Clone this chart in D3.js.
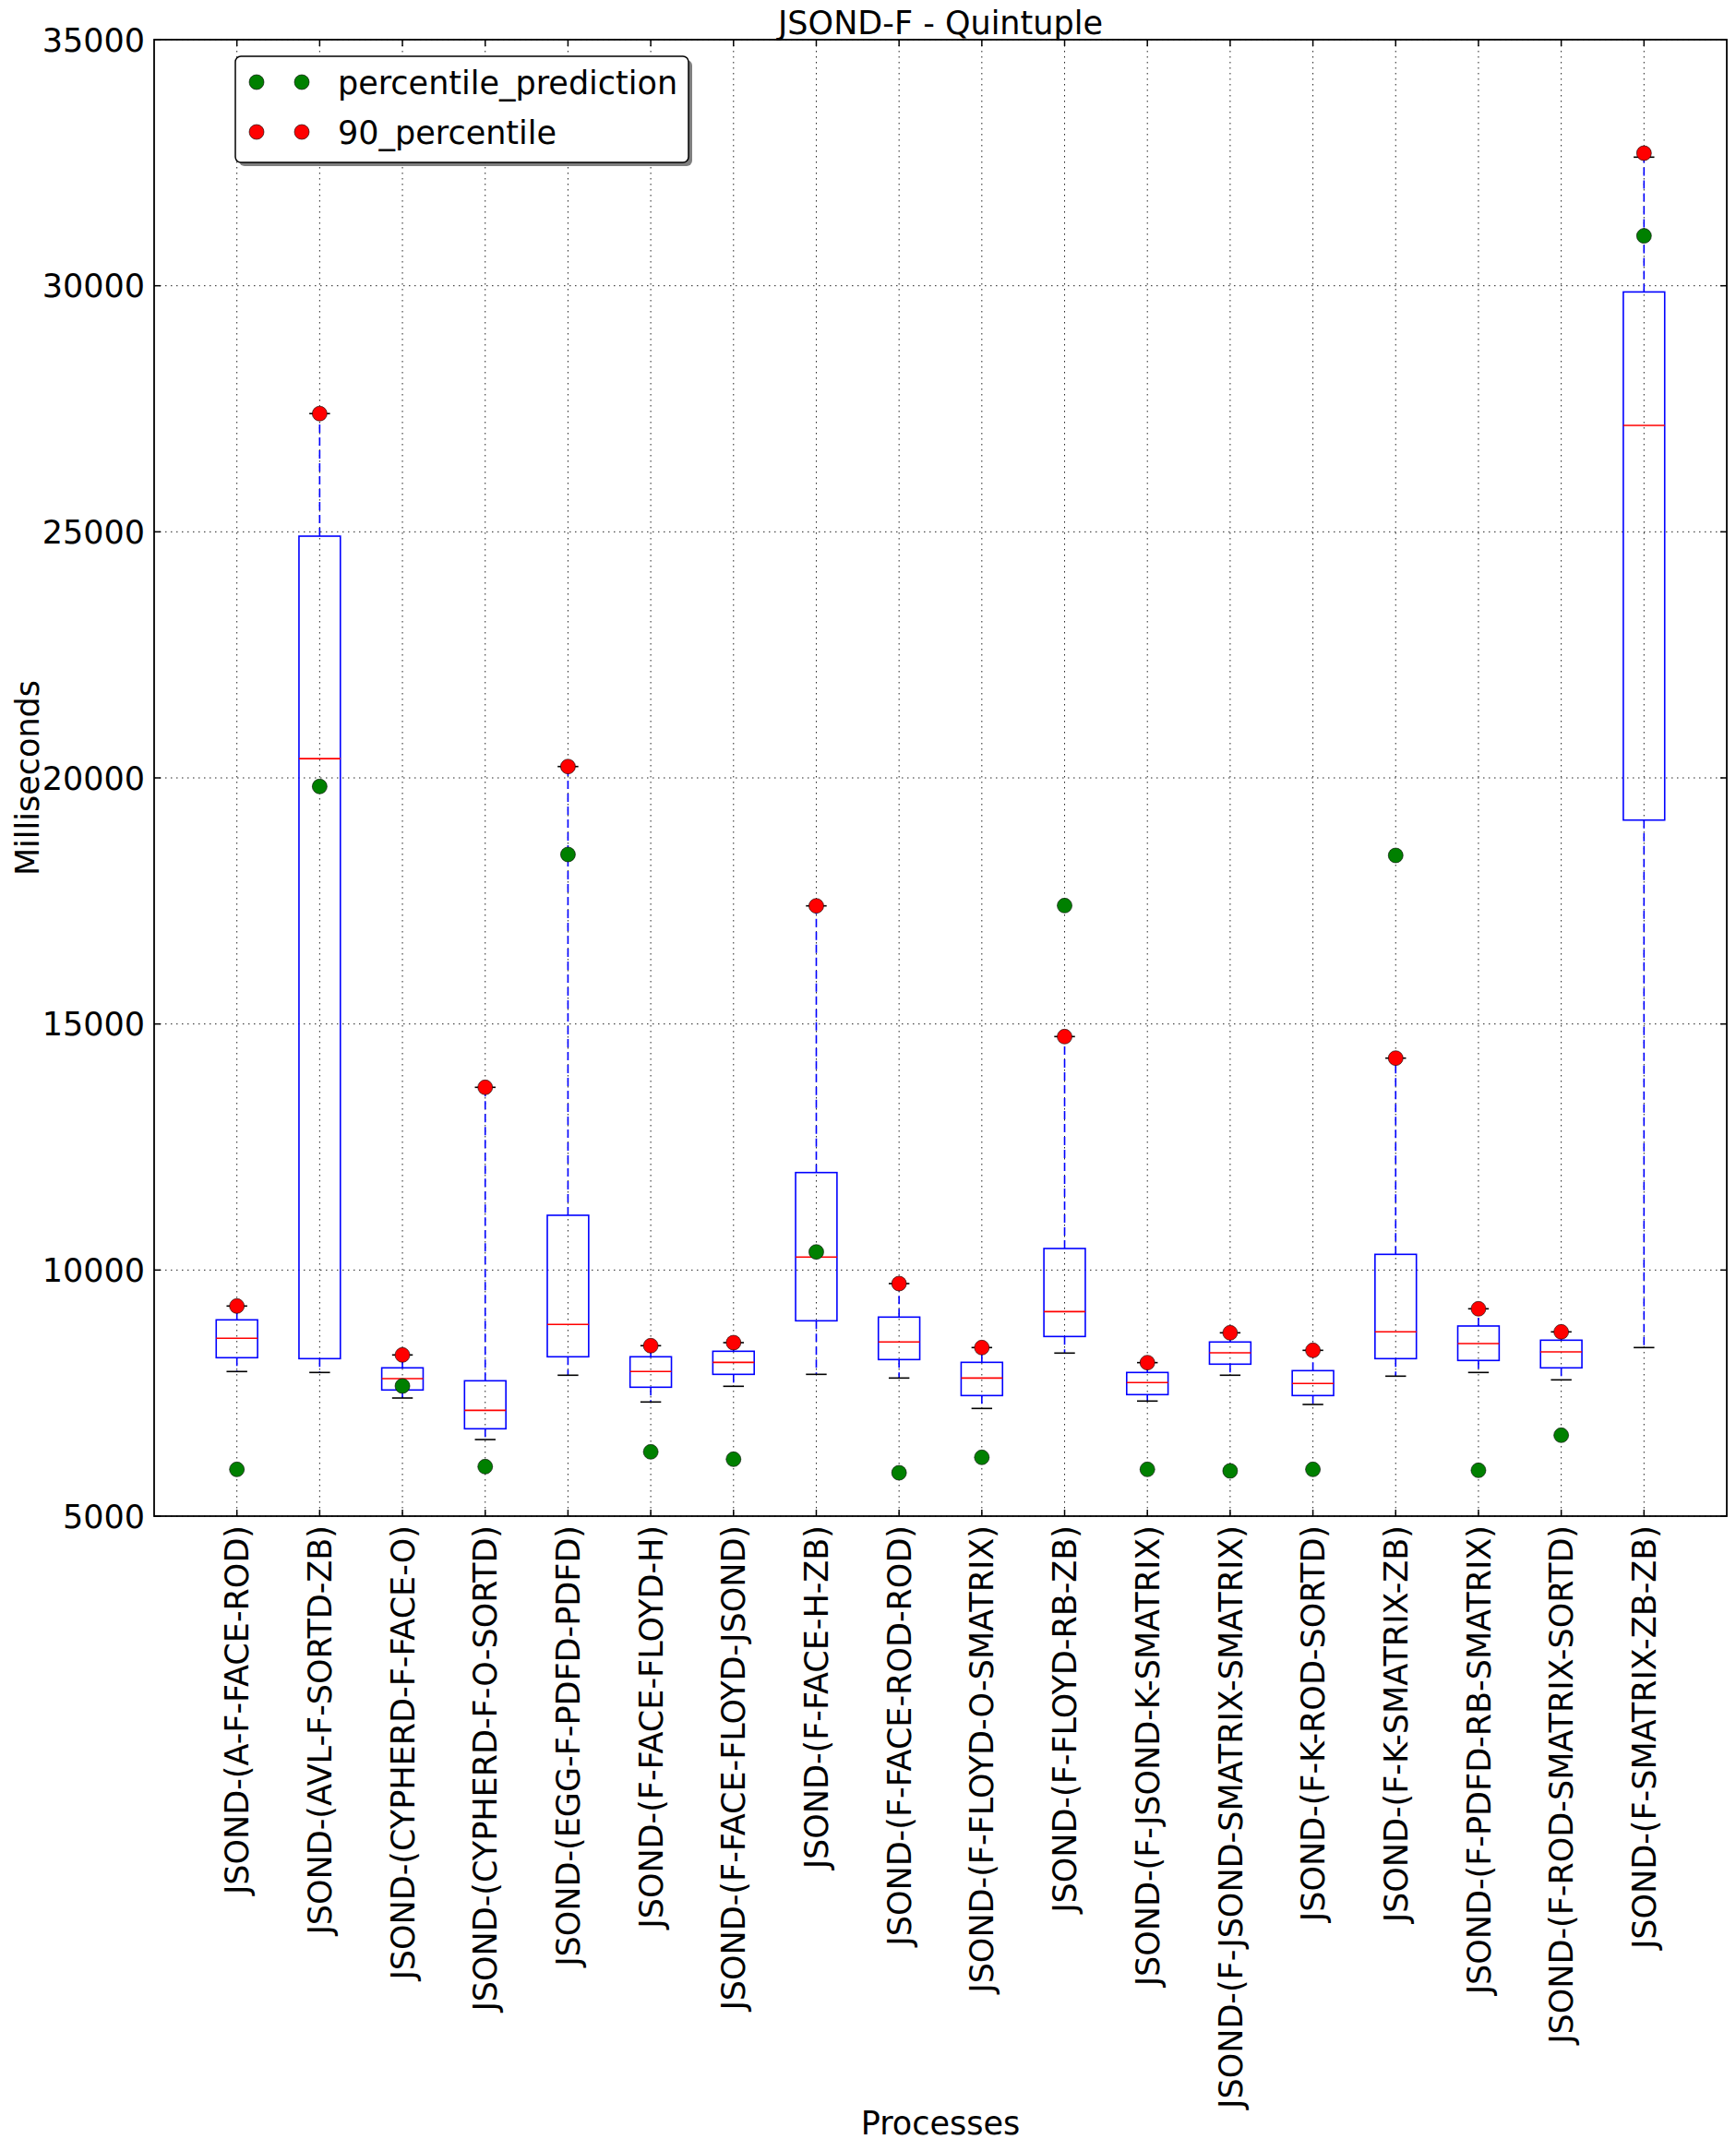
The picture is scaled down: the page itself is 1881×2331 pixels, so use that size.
<!DOCTYPE html>
<html>
<head>
<meta charset="utf-8">
<script src="https://cdn.jsdelivr.net/npm/d3@7"></script>
<style>
    body { margin: 0; background: #fff; }
    text { font-family: "DejaVu Sans", sans-serif; fill: #000; }
</style>
</head>
<body>
<div id="chart"></div>
<script>
// processes on the x axis
const categories = [
    "JSOND-(A-F-FACE-ROD)", "JSOND-(AVL-F-SORTD-ZB)", "JSOND-(CYPHERD-F-FACE-O)",
    "JSOND-(CYPHERD-F-O-SORTD)", "JSOND-(EGG-F-PDFD-PDFD)", "JSOND-(F-FACE-FLOYD-H)",
    "JSOND-(F-FACE-FLOYD-JSOND)", "JSOND-(F-FACE-H-ZB)", "JSOND-(F-FACE-ROD-ROD)",
    "JSOND-(F-FLOYD-O-SMATRIX)", "JSOND-(F-FLOYD-RB-ZB)", "JSOND-(F-JSOND-K-SMATRIX)",
    "JSOND-(F-JSOND-SMATRIX-SMATRIX)", "JSOND-(F-K-ROD-SORTD)", "JSOND-(F-K-SMATRIX-ZB)",
    "JSOND-(F-PDFD-RB-SMATRIX)", "JSOND-(F-ROD-SMATRIX-SORTD)", "JSOND-(F-SMATRIX-ZB-ZB)"
];

// box stats (ms)
const whiskerLo = [7938, 7919, 7400, 6556, 7863, 7319, 7638, 7881, 7806, 7188, 8313, 7338, 7863, 7269, 7844, 7919, 7769, 8425];
const q1 = [8219, 8200, 7563, 6775, 8238, 7619, 7881, 8969, 8181, 7450, 8650, 7469, 8088, 7450, 8200, 8163, 8013, 19143];
const median = [8613, 20392, 7794, 7150, 8894, 7938, 8125, 10263, 8538, 7806, 9156, 7713, 8319, 7694, 8744, 8506, 8338, 27163];
const q3 = [8988, 24912, 8013, 7750, 11113, 8238, 8350, 11981, 9044, 8125, 10438, 7919, 8538, 7956, 10319, 8863, 8575, 29874];
const whiskerHi = [9269, 27402, 8275, 13713, 20231, 8463, 8525, 17400, 9725, 8425, 14744, 8119, 8725, 8369, 14306, 9213, 8744, 32613];

// overlay points
const percentile90 = [9269, 27402, 8275, 13713, 20231, 8463, 8525, 17400, 9725, 8425, 14744, 8119, 8725, 8369, 14306, 9213, 8744, 32694];
const percentilePrediction = [5950, 19826, 7644, 6006, 18444, 6306, 6156, 10368, 5881, 6194, 17406, 5950, 5919, 5950, 18425, 5931, 6644, 31014];

const yTicks = [5000, 10000, 15000, 20000, 25000, 30000, 35000];

class BoxVis {
    constructor(_parentElement) {
        this.parentElement = _parentElement;
        this.initVis();
    }

    initVis() {
        let vis = this;

        vis.W = 1881;
        vis.H = 2331;
        vis.plot = {left: 167, right: 1871, top: 43, bottom: 1643};

        vis.svg = d3.select("#" + vis.parentElement).append("svg")
            .attr("width", vis.W)
            .attr("height", vis.H);

        vis.svg.append("rect").attr("width", vis.W).attr("height", vis.H).attr("fill", "#fff");

        vis.x = d3.scaleLinear().domain([0, categories.length + 1]).range([vis.plot.left, vis.plot.right]);
        vis.y = d3.scaleLinear().domain([5000, 35000]).range([vis.plot.bottom, vis.plot.top]);

        vis.wrangleData();
    }

    wrangleData() {
        let vis = this;
        vis.displayData = categories.map((c, i) => ({
            name: c,
            pos: i + 1,
            lo: whiskerLo[i], q1: q1[i], med: median[i], q3: q3[i], hi: whiskerHi[i],
            p90: percentile90[i], pred: percentilePrediction[i]
        }));
        vis.updateVis();
    }

    updateVis() {
        let vis = this;
        let p = vis.plot;
        let fs = 35;
        let mr = 8;

        // grid
        let grid = vis.svg.append("g").attr("class", "grid")
            .attr("stroke", "#222").attr("stroke-width", 1).attr("stroke-dasharray", "1.5,4.5");
        grid.selectAll(".vg").data(vis.displayData).enter().append("line")
            .attr("x1", d => vis.x(d.pos)).attr("x2", d => vis.x(d.pos))
            .attr("y1", p.top).attr("y2", p.bottom);
        grid.selectAll(".hg").data(yTicks).enter().append("line")
            .attr("x1", p.left).attr("x2", p.right)
            .attr("y1", d => vis.y(d)).attr("y2", d => vis.y(d));

        // boxes
        let bw = vis.x(0.25) - vis.x(0);
        let cw = vis.x(0.125) - vis.x(0);
        let boxes = vis.svg.append("g").selectAll(".box").data(vis.displayData).enter().append("g");

        boxes.append("line")
            .attr("x1", d => vis.x(d.pos)).attr("x2", d => vis.x(d.pos))
            .attr("y1", d => vis.y(d.q3)).attr("y2", d => vis.y(d.hi))
            .attr("stroke", "#0000ff").attr("stroke-width", 1.6).attr("stroke-dasharray", "9,5");
        boxes.append("line")
            .attr("x1", d => vis.x(d.pos)).attr("x2", d => vis.x(d.pos))
            .attr("y1", d => vis.y(d.q1)).attr("y2", d => vis.y(d.lo))
            .attr("stroke", "#0000ff").attr("stroke-width", 1.6).attr("stroke-dasharray", "9,5");

        boxes.append("line")
            .attr("x1", d => vis.x(d.pos) - cw).attr("x2", d => vis.x(d.pos) + cw)
            .attr("y1", d => vis.y(d.hi)).attr("y2", d => vis.y(d.hi))
            .attr("stroke", "#000").attr("stroke-width", 1.6);
        boxes.append("line")
            .attr("x1", d => vis.x(d.pos) - cw).attr("x2", d => vis.x(d.pos) + cw)
            .attr("y1", d => vis.y(d.lo)).attr("y2", d => vis.y(d.lo))
            .attr("stroke", "#000").attr("stroke-width", 1.6);

        boxes.append("rect")
            .attr("x", d => vis.x(d.pos) - bw)
            .attr("y", d => vis.y(d.q3))
            .attr("width", 2 * bw)
            .attr("height", d => vis.y(d.q1) - vis.y(d.q3))
            .attr("fill", "none").attr("stroke", "#0000ff").attr("stroke-width", 1.6);

        boxes.append("line")
            .attr("x1", d => vis.x(d.pos) - bw).attr("x2", d => vis.x(d.pos) + bw)
            .attr("y1", d => vis.y(d.med)).attr("y2", d => vis.y(d.med))
            .attr("stroke", "#ff0000").attr("stroke-width", 1.6);

        // points
        vis.svg.append("g").selectAll(".pred").data(vis.displayData).enter().append("circle")
            .attr("cx", d => vis.x(d.pos)).attr("cy", d => vis.y(d.pred)).attr("r", mr)
            .attr("fill", "#008000").attr("stroke", "#000").attr("stroke-width", 0.6);
        vis.svg.append("g").selectAll(".p90").data(vis.displayData).enter().append("circle")
            .attr("cx", d => vis.x(d.pos)).attr("cy", d => vis.y(d.p90)).attr("r", mr)
            .attr("fill", "#ff0000").attr("stroke", "#000").attr("stroke-width", 0.6);

        // frame + ticks
        vis.svg.append("rect")
            .attr("x", p.left).attr("y", p.top)
            .attr("width", p.right - p.left).attr("height", p.bottom - p.top)
            .attr("fill", "none").attr("stroke", "#000").attr("stroke-width", 1.8);

        let ticks = vis.svg.append("g").attr("stroke", "#000").attr("stroke-width", 1.5);
        vis.displayData.forEach(d => {
            let xx = vis.x(d.pos);
            ticks.append("line").attr("x1", xx).attr("x2", xx).attr("y1", p.bottom).attr("y2", p.bottom - 7);
            ticks.append("line").attr("x1", xx).attr("x2", xx).attr("y1", p.top).attr("y2", p.top + 7);
        });
        yTicks.forEach(t => {
            let yy = vis.y(t);
            ticks.append("line").attr("x1", p.left).attr("x2", p.left + 7).attr("y1", yy).attr("y2", yy);
            ticks.append("line").attr("x1", p.right).attr("x2", p.right - 7).attr("y1", yy).attr("y2", yy);
        });

        // tick labels
        vis.svg.append("g").selectAll(".yl").data(yTicks).enter().append("text")
            .attr("x", p.left - 10).attr("y", d => vis.y(d)).attr("dy", "0.36em")
            .attr("text-anchor", "end").style("font-size", fs + "px")
            .text(d => d);

        vis.svg.append("g").selectAll(".xl").data(vis.displayData).enter().append("text")
            .attr("transform", d => "translate(" + vis.x(d.pos) + "," + (p.bottom + 10) + ") rotate(-90)")
            .attr("dy", "0.36em")
            .attr("text-anchor", "end").style("font-size", fs + "px")
            .text(d => d.name);

        // titles
        vis.svg.append("text")
            .attr("x", (p.left + p.right) / 2).attr("y", 37)
            .attr("text-anchor", "middle").style("font-size", fs + "px")
            .text("JSOND-F - Quintuple");
        vis.svg.append("text")
            .attr("transform", "translate(42," + (p.top + p.bottom) / 2 + ") rotate(-90)")
            .attr("text-anchor", "middle").style("font-size", fs + "px")
            .text("Milliseconds");
        vis.svg.append("text")
            .attr("x", (p.left + p.right) / 2).attr("y", 2313)
            .attr("text-anchor", "middle").style("font-size", fs + "px")
            .text("Processes");

        // legend
        let lg = vis.svg.append("g").attr("class", "legend");
        lg.append("rect").attr("x", 259).attr("y", 65).attr("width", 491).attr("height", 115).attr("rx", 6)
            .attr("fill", "#000").attr("opacity", 0.5);
        lg.append("rect").attr("x", 255).attr("y", 61).attr("width", 491).attr("height", 115).attr("rx", 6)
            .attr("fill", "#fff").attr("stroke", "#000").attr("stroke-width", 1.5);
        let items = [
            {label: "percentile_prediction", color: "#008000", y: 89},
            {label: "90_percentile", color: "#ff0000", y: 143}
        ];
        items.forEach(it => {
            [278, 327].forEach(mx => {
                lg.append("circle").attr("cx", mx).attr("cy", it.y).attr("r", mr)
                    .attr("fill", it.color).attr("stroke", "#000").attr("stroke-width", 0.6);
            });
            lg.append("text").attr("x", 366).attr("y", it.y).attr("dy", "0.36em")
                .style("font-size", fs + "px").text(it.label);
        });
    }
}

new BoxVis("chart");
</script>
</body>
</html>
